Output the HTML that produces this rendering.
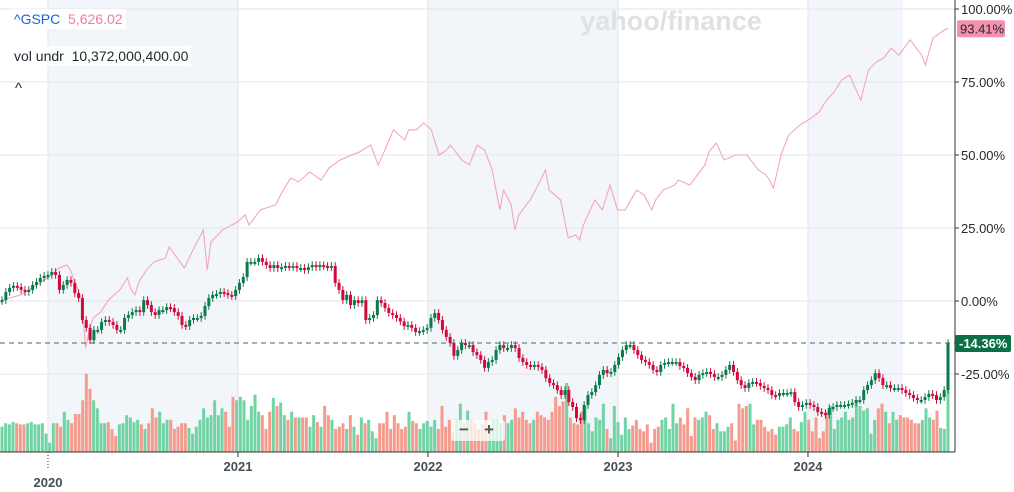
<!DOCTYPE html>
<html><head><meta charset="utf-8"><style>
html,body{margin:0;padding:0;background:#fff;width:1014px;height:492px;overflow:hidden}
svg{display:block;font-family:"Liberation Sans",sans-serif}
.lbl{position:absolute;font-family:"Liberation Sans",sans-serif;font-size:14px;background:rgba(255,255,255,0.85);padding:2px 3px}
</style></head><body>
<div style="position:relative;width:1014px;height:492px">
<svg id="chart" width="1014" height="492">
  <g id="bands"></g><g id="grid"></g><g id="vol"></g><g id="sp"></g><g id="candles"></g><g id="axes"></g>
  <text x="671" y="30" text-anchor="middle" font-size="27" font-weight="bold" fill="#e0e1e4">yahoo/finance</text>
</svg>
<div class="lbl" style="left:11px;top:9px"><span style="color:#1e63d6">^GSPC</span>&nbsp; <span style="color:#f07ea0">5,626.02</span></div>
<div class="lbl" style="left:11px;top:46px;color:#232a31">vol undr&nbsp; 10,372,000,400.00</div>
<div style="position:absolute;left:15px;top:80px;font:15px 'Liberation Sans',sans-serif;color:#232a31">^</div>
<div style="position:absolute;left:451px;top:420px;width:54px;height:21px;background:rgba(255,255,255,0.75);border-radius:3px;font:bold 17px 'Liberation Sans',sans-serif;color:#555">
  <span style="position:absolute;left:8px;top:0">−</span>
  <span style="position:absolute;left:33px;top:0">+</span>
</div>
</div>
<script>
const closes=[0.3,3.1,4.5,5.2,4.8,3.8,3.1,3.8,5.5,6.5,7.9,8.6,8.9,9.9,
8.9,3.8,5.5,7.2,6.2,2.7,1.0,-6.5,-9.2,-13.4,-9.9,-9.9,-7.2,-6.5,-7.2,-8.2,-9.9,-9.9,-5.8,-4.8,-3.8,-3.1,-3.8,0.3,-1.4,-3.8,-4.8,-3.1,-3.1,-2.1,-2.4,-3.8,-5.1,-8.2,-8.6,-6.5,-5.8,-5.8,-5.1,-1.7,1.0,2.1,2.4,3.1,2.7,2.1,1.7,3.8,6.2,
8.2,13.4,13.4,13.4,14.7,13.4,12.3,11.3,12.3,11.3,11.6,12.0,11.6,12.0,11.3,11.3,10.6,11.6,12.3,11.6,12.3,12.0,11.6,12.0,6.2,3.8,0.3,2.1,-1.4,0.3,-0.7,0.3,-6.5,-5.8,-4.8,0.3,-0.7,-2.4,-4.1,-4.8,-5.8,-7.0,-8.6,-8.2,-9.2,-10.6,-10.3,-9.9,-9.2,-5.8,-4.1,-6.5,-9.9,-12.3,-14.4,-18.8,
-16.8,-14.4,-15.1,-15.1,-17.5,-18.5,-20.2,-22.9,-20.9,-20.2,-16.8,-15.1,-16.1,-16.1,-15.1,-16.1,-19.5,-20.9,-21.9,-22.3,-21.9,-22.6,-23.6,-26.4,-28.1,-28.8,-30.5,-32.2,-30.5,-34.6,-36.3,-40.1,-40.8,-35.6,-32.2,-31.2,-28.8,-25.3,-23.6,-24.7,-24.3,-21.9,-19.2,-16.8,-15.1,-15.1,-16.8,-18.5,-20.2,-20.9,-21.9,-23.6,-24.3,-21.9,-21.2,-20.9,-20.9,-20.9,-22.3,-22.9,-24.7,-26.0,-27.1,-25.3,-24.7,-24.3,-25.0,-26.0,-26.0,-25.3,-23.6,-21.9,-24.3,-27.1,-28.8,-29.8,-28.1,-27.7,-28.1,-29.1,-29.8,-30.5,-32.2,-32.5,-31.5,-31.5,-31.5,-31.2,-34.6,-36.3,-35.6,-34.9,-35.6,-36.3,-38.0,-38.4,-39.0,-36.6,-36.3,-35.6,-35.6,-35.6,-35.3,-34.9,-33.9,-33.9,-30.5,-28.8,-27.1,-24.7,-26.4,-28.8,-28.8,-29.8,-29.8,-29.8,-30.5,-31.5,-32.2,-33.2,-33.9,-33.9,-32.9,-31.8,-32.2,-33.9,-32.9,-30.5,-14.4];
const volumes=[22,25,24,26,25,24,24,25,26,24,24,25,16,8,
25,25,22,35,28,25,33,33,45,68,55,45,38,25,25,26,20,14,24,25,32,30,26,28,24,20,25,38,30,35,25,28,28,20,22,25,25,21,16,22,28,38,30,32,45,32,38,35,22,
48,45,48,45,28,40,50,35,32,20,35,47,40,43,32,28,35,30,30,30,30,22,32,26,22,40,32,28,20,22,25,20,32,22,15,30,25,28,18,12,25,25,35,20,32,25,20,22,35,27,25,20,
25,27,22,28,20,40,22,28,18,28,42,25,36,28,25,20,24,35,22,28,28,25,32,25,28,38,30,35,28,25,28,35,32,30,28,35,48,40,44,60,30,25,24,35,40,25,18,30,28,42,
20,12,40,26,15,30,20,23,28,20,18,24,8,20,22,28,30,20,42,25,30,24,38,14,30,28,30,35,32,20,25,18,18,22,25,10,42,38,40,42,24,28,28,22,18,20,15,22,22,24,30,20,18,26,35,28,18,
30,12,18,35,40,20,28,30,35,28,30,45,40,36,38,16,28,38,42,35,25,35,28,32,30,30,28,25,25,28,38,30,28,36,21,20,62];
const spWeeks=[0,5,10,13,15,17,18,20,21,22,23,24,26,28,31,33,34,35,36,38,40,43,44,48,50,53,54,55,58,62,64,65,68,72,74,76,78,81,84,86,89,92,94,97,99,101,103,106,107,109,111,113,115,117,118,121,123,125,127,129,131,132,134,135,136,139,142,143,144,147,149,151,152,153,156,158,160,162,164,167,169,171,172,174,177,178,181,184,185,186,188,190,193,196,197,199,201,202,203,205,207,210,213,215,217,219,221,223,226,228,230,232,234,236,239,242,243,245,248,249];
const spPct=[0.3,2.1,6.2,8.9,11.3,12.3,10.6,3.8,0.3,-16.1,-9.9,-5.8,-3.8,0.3,3.8,7.9,3.8,2.1,6.5,10.6,13.4,14.7,18.5,11.3,16.8,24.3,10.6,20.2,24.3,27.1,29.5,26.0,31.2,32.9,38.0,42.1,40.8,44.2,41.4,45.5,48.3,50.0,51.0,53.4,46.6,52.4,58.6,55.1,58.6,58.6,61.0,58.6,50.0,51.7,53.4,48.3,46.6,53.4,51.7,44.9,31.2,38.0,32.9,24.3,29.5,34.6,42.1,44.9,38.0,34.6,21.6,22.6,20.9,26.0,34.6,31.2,39.7,31.2,31.2,38.0,36.3,31.2,34.6,38.0,39.7,41.4,39.7,44.9,46.6,51.0,54.1,48.3,50.0,50.0,48.3,44.9,43.2,41.4,38.7,50.0,56.8,60.3,62.7,64.7,68.8,71.6,75.7,77.4,68.8,79.1,81.8,83.2,86.6,84.2,89.4,84.2,80.8,90.1,92.8,93.4];
const yTicks=[100,75,50,25,0,-25];
const yearLabels=["2020","2021","2022","2023","2024"];
const yearWeeks=[12.1,62.1,112.1,162.1,212.1];

const NS="http://www.w3.org/2000/svg";
function el(tag,attrs,parent){const e=document.createElementNS(NS,tag);for(const k in attrs)e.setAttribute(k,attrs[k]);parent.appendChild(e);return e;}
const X0=2,X1=948,PLOT_R=955,VBASE=452;
const y=p=>301-p*2.92;
const xw=w=>X0+w*3.8;
const xi=i=>X0+i*(X1-X0)/(closes.length-1);
const xv=i=>X0+i*(X1-X0)/(volumes.length-1);
const vy=v=>VBASE-v*1.15;

const bands=document.getElementById('bands');
[[0,1],[2,3],[4,null]].forEach((pr,k)=>{
  const a=xw(yearWeeks[pr[0]]),b=pr[1]===null?903:xw(yearWeeks[pr[1]]);
  const r=el('rect',{x:a,y:0,width:b-a,height:VBASE,fill:'#f2f5f9'},bands);
  
  
});
const grid=document.getElementById('grid');
yTicks.forEach(t=>{const l=el('line',{x1:0,x2:PLOT_R,y1:y(t),y2:y(t),stroke:'#e3e6eb','stroke-width':1},grid);
  
  });
yearWeeks.forEach(w=>{const l=el('line',{x1:xw(w),x2:xw(w),y1:0,y2:VBASE,stroke:'#e0e4ea','stroke-width':1},grid);
  
  });

const vol=document.getElementById('vol');
volumes.forEach((v,i)=>{
  const ci=Math.min(closes.length-1,Math.round(i*(closes.length-1)/(volumes.length-1)));
  const up=closes[ci]>=(ci>0?closes[ci-1]:0);
  const r=el('rect',{x:xv(i)-1.5,y:vy(v),width:3,height:VBASE-vy(v),fill:up?'#72d3a4':'#f59b8d'},vol);
  
  
});

const sp=document.getElementById('sp');
const pl=el('polyline',{points:spWeeks.map((w,i)=>xw(w)+','+y(spPct[i])).join(' '),fill:'none',stroke:'#f4a6bb','stroke-width':1.1},sp);



const cg=document.getElementById('candles');
closes.forEach((c,i)=>{
  const o=i>0?closes[i-1]:0;
  const up=c>=o,col=up?'#0b7a4b':'#d2093c',x=xi(i);
  const hi=Math.max(o,c)+1.3,lo=Math.min(o,c)-1.3;
  const w=el('line',{x1:x,x2:x,y1:y(hi),y2:y(lo),stroke:col,'stroke-width':1},cg);
  
  
  const top=y(Math.max(o,c)),h=Math.max(2,y(Math.min(o,c))-top);
  const b=el('rect',{x:x-1.5,y:top,width:3,height:h,fill:col},cg);
  
  
});

const ax=document.getElementById('axes');
const last=closes[closes.length-1];
const dl=el('line',{x1:0,x2:PLOT_R,y1:y(last),y2:y(last),stroke:'#3a6e5a','stroke-width':1,'stroke-dasharray':'5,4'},ax);


const ra=el('line',{x1:PLOT_R,x2:PLOT_R,y1:0,y2:VBASE,stroke:'#333','stroke-width':1},ax);


const ba=el('line',{x1:0,x2:PLOT_R,y1:VBASE,y2:VBASE,stroke:'#333','stroke-width':1},ax);


yTicks.forEach(t=>{
  el('line',{x1:PLOT_R,x2:PLOT_R+4,y1:y(t),y2:y(t),stroke:'#333'},ax);
  const tx=el('text',{x:961,y:y(t)+5,'font-size':13,fill:'#232a31'},ax);
  tx.textContent=t.toFixed(2)+'%';
  
  
});
yearWeeks.forEach((w,k)=>{
  const x=xw(w);
  el('line',{x1:x,x2:x,y1:VBASE,y2:VBASE+(k===0?18:5),stroke:'#333','stroke-dasharray':k===0?'1,2':''},ax);
  const tx=el('text',{x:x,y:k===0?487:471,'text-anchor':'middle','font-size':13,'font-weight':'bold',fill:'#464e56'},ax);
  tx.textContent=yearLabels[k];
  
  
});
const spLast=spPct[spPct.length-1];
const b1=el('rect',{x:957,y:y(spLast)-8,width:48,height:17,rx:2,fill:'#f590ad'},ax);


const t1=el('text',{x:960,y:y(spLast)+5,'font-size':13,fill:'#232a31'},ax);
t1.textContent='93.41%';


const b2=el('rect',{x:955,y:y(last)-8,width:56,height:17,rx:2,fill:'#0b7045'},ax);


const t2=el('text',{x:959,y:y(last)+5,'font-size':13,'font-weight':'bold',fill:'#fff'},ax);
t2.textContent='-14.36%';


</script>
</body></html>
